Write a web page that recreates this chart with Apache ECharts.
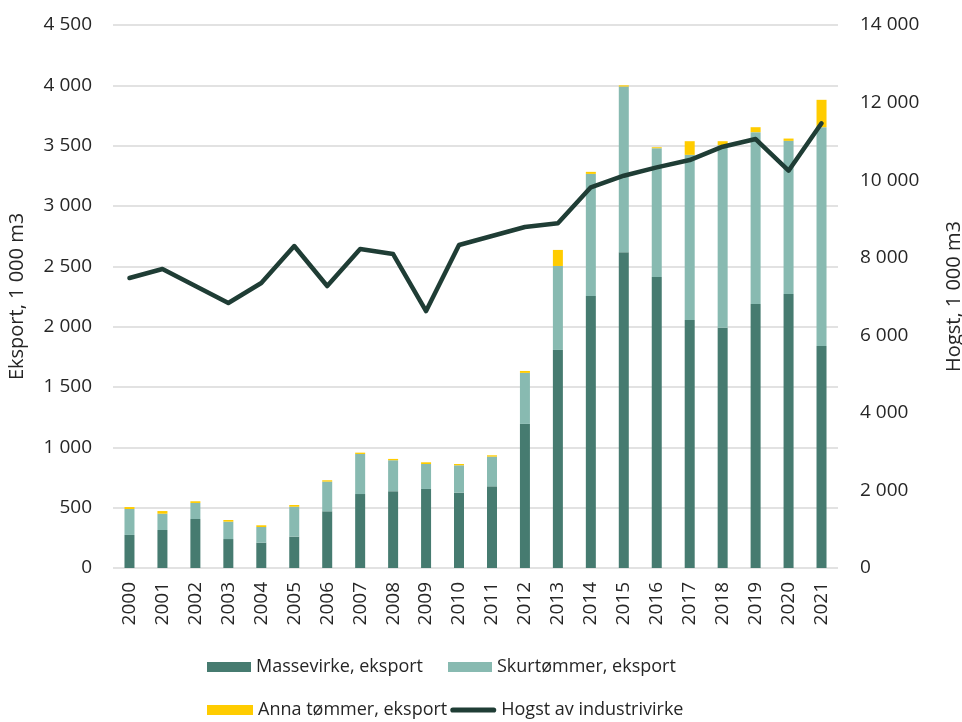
<!DOCTYPE html>
<html>
<head>
<meta charset="utf-8">
<script src="https://cdn.jsdelivr.net/npm/echarts@6/dist/echarts.min.js"></script>
<style>
    html, body { margin: 0; padding: 0; background: #fff; }
    #chart { width: 962px; height: 722px; }
</style>
</head>
<body>
<div id="chart"></div>
<script>
    // år
    const years = ['2000', '2001', '2002', '2003', '2004', '2005', '2006', '2007', '2008', '2009', '2010',
        '2011', '2012', '2013', '2014', '2015', '2016', '2017', '2018', '2019', '2020', '2021'];
    // eksport, 1 000 m3
    const massevirke = [274, 315, 406, 240, 210, 260, 470, 613, 636, 655, 624,
        677, 1194, 1807, 2255, 2617, 2412, 2056, 1990, 2188, 2271, 1840];
    const skurtommer = [215, 135, 133, 144, 130, 248, 246, 332, 257, 207, 227,
        246, 423, 696, 1011, 1373, 1067, 1368, 1514, 1424, 1269, 1813];
    const annaTommer = [16, 22, 14, 14, 14, 14, 11, 11, 11, 14, 11,
        11, 16, 133, 17, 10, 8, 113, 33, 41, 19, 227];
    // hogst, 1 000 m3
    const hogst = [7476, 7708, 7270, 6832, 7347, 8301, 7270, 8224, 8095, 6625, 8327,
        8559, 8791, 8886, 9815, 10114, 10330, 10518, 10862, 11060, 10243, 11465];

    const fontFamily = '"Open Sans", "Noto Sans", sans-serif';
    const textColor = '#262626';
    const lineColor = '#1f3d35';

    // tusenskilje med mellomrom
    function fmt(v) {
        return String(v).replace(/\B(?=(\d{3})+(?!\d))/g, ' ');
    }

    const chart = echarts.init(document.getElementById('chart'));
    chart.setOption({
        animation: false,
        textStyle: { fontFamily: fontFamily },
        grid: { left: 113, right: 124, top: 25, bottom: 154, outerBoundsMode: 'none' },
        legend: [
            {
                left: 207, top: 658,
                itemWidth: 44, itemHeight: 10, itemGap: 25, padding: 0,
                textStyle: { fontSize: 18, color: textColor },
                data: [
                    { name: 'Massevirke, eksport', icon: 'rect' },
                    { name: 'Skurtømmer, eksport', icon: 'rect' }
                ]
            },
            {
                left: 207, top: 701,
                itemWidth: 46, itemHeight: 10, itemGap: 3, padding: 0,
                textStyle: { fontSize: 18, color: textColor },
                data: [
                    { name: 'Anna tømmer, eksport', icon: 'rect' },
                    // tykk strek uten markør
                    { name: 'Hogst av industrivirke', icon: 'path://M2,0 L42,0 A2.5,2.5 0 0 1 42,5 L2,5 A2.5,2.5 0 0 1 2,0 Z' }
                ]
            }
        ],
        xAxis: {
            type: 'category',
            data: years,
            axisTick: { show: false },
            axisLine: { show: false },
            axisLabel: {
                rotate: 90, fontSize: 19, color: textColor, margin: 14, interval: 0
            }
        },
        yAxis: [
            {
                type: 'value',
                min: 0, max: 4500, interval: 500,
                name: 'Eksport, 1 000 m3',
                nameLocation: 'middle',
                nameGap: 86,
                nameRotate: 90,
                nameTextStyle: { fontSize: 20, color: textColor },
                axisLabel: { fontSize: 19, color: textColor, margin: 21, formatter: fmt },
                splitLine: { lineStyle: { color: '#d9d9d9', width: 1.5 } }
            },
            {
                type: 'value',
                min: 0, max: 14000, interval: 2000,
                position: 'right',
                name: 'Hogst, 1 000 m3',
                nameLocation: 'middle',
                nameGap: 106,
                nameRotate: 90,
                nameTextStyle: { fontSize: 20, color: textColor },
                axisLabel: { fontSize: 19, color: textColor, margin: 22, formatter: fmt },
                splitLine: { show: false }
            }
        ],
        series: [
            {
                name: 'Massevirke, eksport',
                type: 'bar',
                stack: 'eksport',
                barWidth: 10,
                itemStyle: { color: '#467b70' },
                data: massevirke
            },
            {
                name: 'Skurtømmer, eksport',
                type: 'bar',
                stack: 'eksport',
                barWidth: 10,
                itemStyle: { color: '#88bab1' },
                data: skurtommer
            },
            {
                name: 'Anna tømmer, eksport',
                type: 'bar',
                stack: 'eksport',
                barWidth: 10,
                itemStyle: { color: '#ffcc00' },
                data: annaTommer
            },
            {
                name: 'Hogst av industrivirke',
                type: 'line',
                yAxisIndex: 1,
                symbol: 'none',
                lineStyle: { color: lineColor, width: 4.5, cap: 'round', join: 'round' },
                itemStyle: { color: lineColor },
                data: hogst
            }
        ]
    });
</script>
</body>
</html>
